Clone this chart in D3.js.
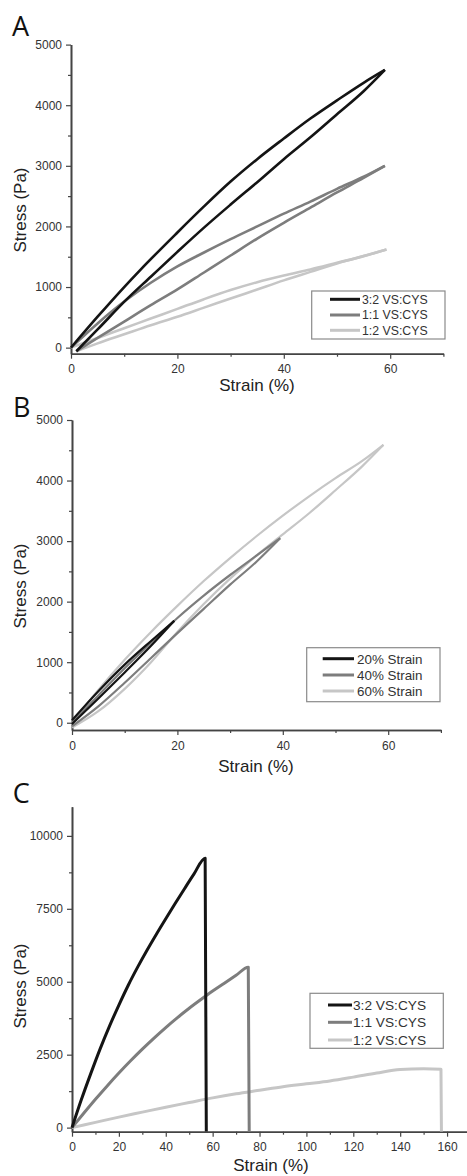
<!DOCTYPE html>
<html>
<head>
<meta charset="utf-8">
<script src="https://cdn.jsdelivr.net/npm/d3@7"></script>
<style>
  body { margin: 0; background: #fff; }
  svg { display: block; }
  .tick text { font-family: "Liberation Sans", Arial, sans-serif; fill: #333; }
</style>
</head>
<body>
<svg id="chart" width="467" height="1176"></svg>
<script>
// ---- values: [strain %, stress Pa] ----
var namesA = ["3:2 VS:CYS", "1:1 VS:CYS", "1:2 VS:CYS"];
var namesB = ["20% Strain", "40% Strain", "60% Strain"];
var namesC = ["3:2 VS:CYS", "1:1 VS:CYS", "1:2 VS:CYS"];

// A: loading / unloading loops up to 60 %
var a32Up = [[0,0],[5,510],[10,1000],[13,1280],[20,1900],[25,2330],[30,2740],[35,3110],[40,3450],[45,3780],[50,4080],[55,4370],[59,4582]];
var a32Down = [[1,-60],[5,300],[10.5,800],[15,1170],[20,1580],[25,1980],[30,2360],[35.5,2767],[40,3110],[45,3470],[50,3850],[55,4230],[59,4582]];
var a11Up = [[0,0],[5,400],[10,760],[15,1070],[20,1340],[25,1570],[30,1790],[35,2000],[40,2210],[45,2410],[50,2620],[55,2820],[59,3000]];
var a11Down = [[1,-60],[5,160],[10,430],[15,700],[20,960],[25,1240],[30,1520],[35,1800],[40,2060],[45,2310],[50,2560],[55,2800],[59,3000]];
var a12Up = [[0,0],[5,160],[10,320],[15,480],[20,640],[25,800],[30,950],[35,1080],[40,1190],[45,1290],[50,1400],[55,1510],[59.3,1620]];
var a12Down = [[1,-60],[5,70],[10,220],[15,370],[20,510],[25,660],[30,810],[35,960],[40,1110],[45,1250],[50,1390],[55,1510],[59.3,1620]];

// B: 3:2 gel cycled to 20, 40 and 60 %
var b20Up = [[0,40],[5,520],[10,960],[15,1350],[19.4,1683]];
var b20Down = [[0,-20],[5,400],[10,830],[15,1270],[19.4,1683]];
var b40Up = [[0,0],[5,450],[10,900],[15,1320],[20,1730],[25,2100],[30,2440],[35,2760],[39.5,3048]];
var b40Down = [[0,-60],[5,270],[10,660],[15,1070],[20,1480],[25,1880],[30,2280],[35,2660],[39.5,3048]];
var b60Up = [[0,0],[5,540],[10,1040],[15,1500],[20,1930],[25,2340],[30,2720],[35,3080],[40,3420],[45,3740],[50,4040],[55,4320],[59.1,4590]];
var b60Down = [[0,-80],[5,190],[10,560],[15,1000],[20,1500],[25,1960],[30,2380],[35,2760],[40,3110],[45,3460],[50,3840],[55,4230],[59.1,4590]];

// C: compression to failure
var c32 = [[0,0],[4,960],[8,1850],[12,2700],[16,3480],[20,4200],[24,4880],[28,5500],[32,6080],[36,6630],[40,7160],[44,7680],[48,8190],[52,8690],[56.8,9236],[57.3,-130]];
var c11 = [[0,0],[5,490],[10,970],[15,1430],[20,1870],[25,2290],[30,2690],[35,3070],[40,3430],[45,3770],[50,4090],[55,4390],[60,4680],[65,4950],[70,5220],[75.2,5500],[75.6,-130]];
var c12 = [[0,0],[10,180],[20,360],[30,530],[40,700],[50,860],[60,1020],[70,1160],[80,1280],[90,1400],[100,1500],[110,1600],[120,1730],[130,1870],[140,1990],[150,2020],[157.4,2000],[157.6,-130]];

var colors = ["#141414", "#7d7d7d", "#c6c6c6"];
var font = '"Liberation Sans", Arial, sans-serif';

var svg = d3.select("#chart");

function panel(o) {
  var x = d3.scaleLinear().domain(o.xDom).range(o.xRange);
  var y = d3.scaleLinear().domain(o.yDom).range(o.yRange);
  var g = svg.append("g");

  // minor ticks first, then major axes on top
  g.append("g").attr("transform", "translate(0," + o.yRange[0] + ")")
    .call(d3.axisBottom(x).tickValues(o.xMinor).tickSize(3).tickSizeOuter(0).tickFormat(""));
  g.append("g").attr("transform", "translate(" + o.xRange[0] + ",0)")
    .call(d3.axisLeft(y).tickValues(o.yMinor).tickSize(3).tickSizeOuter(0).tickFormat(""));

  g.append("g").attr("transform", "translate(0," + o.yRange[0] + ")")
    .call(d3.axisBottom(x).tickValues(o.xMajor).tickSize(5).tickPadding(6).tickSizeOuter(0).tickFormat(d3.format("d")));
  g.append("g").attr("transform", "translate(" + o.xRange[0] + ",0)")
    .call(d3.axisLeft(y).tickValues(o.yMajor).tickSize(5).tickPadding(4).tickSizeOuter(0).tickFormat(d3.format("d")));
  g.selectAll(".tick text").style("font-size", "12px");
  g.selectAll(".domain").attr("stroke", "#444").attr("stroke-width", 1.6);
  g.selectAll(".tick line").attr("stroke", "#444").attr("stroke-width", 1.2);

  // curves
  var line = d3.line()
    .x(function(d) { return x(d[0]); })
    .y(function(d) { return y(d[1]); })
    .curve(d3.curveMonotoneX);
  for (var i = o.series.length - 1; i >= 0; i--) {
    o.series[i].forEach(function(s) {
      g.append("path")
        .attr("d", line(s))
        .attr("fill", "none")
        .attr("stroke", colors[i])
        .attr("stroke-width", o.lw)
        .attr("stroke-linejoin", "round");
    });
  }

  // panel letter
  g.append("text").attr("x", o.letterPos[0]).attr("y", o.letterPos[1])
    .style("font-family", '"Open Sans", sans-serif').style("font-size", "27px")
    .attr("fill", "#111").text(o.letter);

  // axis titles
  g.append("text")
    .attr("transform", "translate(26," + o.yTitleY + ") rotate(-90)")
    .attr("text-anchor", "middle")
    .style("font-family", font).style("font-size", "17px").attr("fill", "#222")
    .text("Stress (Pa)");
  g.append("text")
    .attr("x", o.xTitlePos[0]).attr("y", o.xTitlePos[1])
    .attr("text-anchor", "middle")
    .style("font-family", font).style("font-size", "17px").attr("fill", "#222")
    .text("Strain (%)");

  // legend
  var L = o.legend;
  g.append("rect").attr("x", L.box[0]).attr("y", L.box[1])
    .attr("width", L.box[2]).attr("height", L.box[3])
    .attr("fill", "#fff").attr("stroke", "#8a8a8a").attr("stroke-width", 1.2);
  o.names.forEach(function(n, i) {
    g.append("line").attr("x1", L.line[0]).attr("x2", L.line[1])
      .attr("y1", L.rows[i]).attr("y2", L.rows[i])
      .attr("stroke", colors[i]).attr("stroke-width", 3);
    g.append("text").attr("x", L.textX).attr("y", L.rows[i]).attr("dy", "0.36em")
      .style("font-family", font).style("font-size", L.size + "px").attr("fill", "#333")
      .text(n);
  });
}

panel({
  letter: "A", letterPos: [12, 36],
  xDom: [0, 70], xRange: [71, 443.4],
  yDom: [-100, 5000], yRange: [353.7, 44.6],
  xMajor: [0, 20, 40, 60], xMinor: [10, 30, 50, 70],
  yMajor: [0, 1000, 2000, 3000, 4000, 5000], yMinor: [500, 1500, 2500, 3500, 4500],
  series: [[a32Up, a32Down], [a11Up, a11Down], [a12Up, a12Down]],
  names: namesA, lw: 2.6,
  yTitleY: 210, xTitlePos: [257, 391],
  legend: { box: [311.7, 291, 133.3, 48], line: [330, 360], textX: 362, rows: [299.3, 315, 330.3], size: 12.3 }
});

panel({
  letter: "B", letterPos: [13, 417],
  xDom: [0, 70], xRange: [72, 440.9],
  yDom: [-120, 5000], yRange: [730, 420],
  xMajor: [0, 20, 40, 60], xMinor: [10, 30, 50, 70],
  yMajor: [0, 1000, 2000, 3000, 4000, 5000], yMinor: [500, 1500, 2500, 3500, 4500],
  series: [[b20Up, b20Down], [b40Up, b40Down], [b60Up, b60Down]],
  names: namesB, lw: 2.2,
  yTitleY: 586, xTitlePos: [256, 772],
  legend: { box: [306.7, 647.7, 133.3, 54], line: [322.7, 354], textX: 357, rows: [658.7, 675, 691], size: 13.4 }
});

panel({
  letter: "C", letterPos: [12.7, 802.7],
  xDom: [0, 170], xRange: [72, 470.5],
  yDom: [-140, 11000], yRange: [1131.7, 806.7],
  xMajor: d3.range(0, 161, 20), xMinor: d3.range(10, 171, 20),
  yMajor: [0, 2500, 5000, 7500, 10000], yMinor: [1250, 3750, 6250, 8750],
  series: [[c32], [c11], [c12]],
  names: namesC, lw: 3,
  yTitleY: 986, xTitlePos: [271, 1171],
  legend: { box: [310, 993.3, 133.3, 55], line: [328, 352], textX: 353, rows: [1005, 1022.3, 1040], size: 13.7 }
});
</script>
</body>
</html>
